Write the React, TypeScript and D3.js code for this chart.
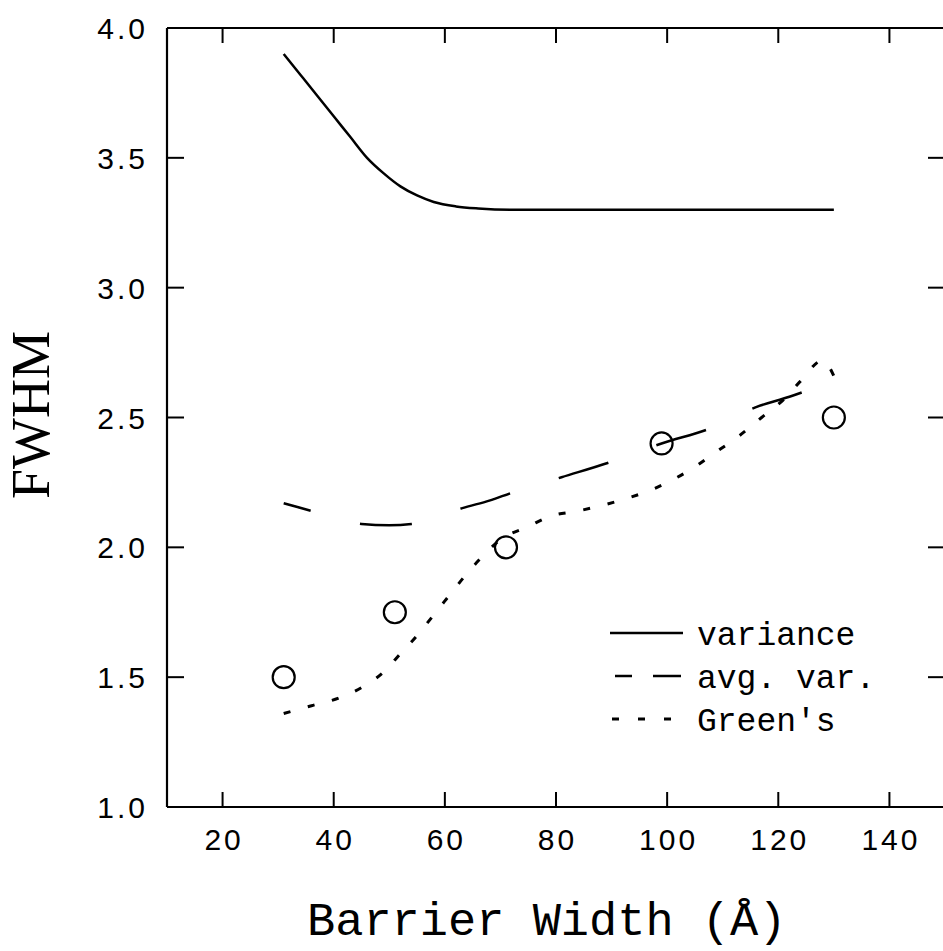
import React from "react";
import * as d3 from "d3";

const xTicks = [20, 40, 60, 80, 100, 120, 140];
const yTicks = [1.0, 1.5, 2.0, 2.5, 3.0, 3.5, 4.0];

const varianceX = [31, 34, 37, 40, 43, 46, 49, 52, 55, 58, 62, 66, 72, 100, 130];
const varianceY = [3.9, 3.82, 3.74, 3.66, 3.58, 3.5, 3.44, 3.39, 3.355, 3.33, 3.313, 3.305, 3.3, 3.3, 3.3];

const avgVarX = [31, 36, 41, 45, 50, 54, 58, 63, 68, 72, 81, 90, 99, 108, 116, 122, 126, 130];
const avgVarY = [2.17, 2.14, 2.11, 2.09, 2.085, 2.09, 2.11, 2.15, 2.18, 2.21, 2.27, 2.33, 2.4, 2.46, 2.54, 2.58, 2.61, 2.64];

const greensX = [31, 36, 41, 45, 49, 52, 55, 58, 61, 64, 67, 70, 75, 79, 84, 88, 93, 97, 101, 105, 109, 113, 117, 121, 124, 128, 130];
const greensY = [1.36, 1.39, 1.42, 1.46, 1.52, 1.59, 1.66, 1.74, 1.82, 1.9, 1.97, 2.03, 2.08, 2.12, 2.14, 2.16, 2.19, 2.22, 2.26, 2.31, 2.37, 2.43, 2.5, 2.57, 2.64, 2.72, 2.66];

const pointsX = [31, 51, 71, 99, 130];
const pointsY = [1.5, 1.75, 2.0, 2.4, 2.5];

const legendLabels = ["variance", "avg. var.", "Green's"];

export default function App() {
  const x = d3.scaleLinear().domain([10, 150]).range([167, 945]);
  const y = d3.scaleLinear().domain([1, 4]).range([807, 28]);
  const line = d3
    .line<[number, number]>()
    .x((d) => x(d[0]))
    .y((d) => y(d[1]))
    .curve(d3.curveMonotoneX);
  const zip = (a: number[], b: number[]) => a.map((v, i) => [v, b[i]] as [number, number]);

  const tickFont = { fontFamily: "'Liberation Sans', Arial, sans-serif", fontSize: 30, letterSpacing: 3 };
  const monoFont = "'Liberation Mono', 'Courier New', monospace";

  const legendY = [633, 676, 719];

  return (
    <svg width={943} height={951} style={{ position: "absolute", left: 0, top: 0, background: "#fff" }}>
      <g stroke="#000" strokeWidth={2.2} fill="none">
        <line x1={x(10)} x2={x(10)} y1={y(1)} y2={y(4)} />
        <line x1={x(10)} x2={x(150)} y1={y(1)} y2={y(1)} />
        <line x1={x(10)} x2={x(150)} y1={y(4)} y2={y(4)} />
        <line x1={x(150)} x2={x(150)} y1={y(1)} y2={y(4)} />
      </g>
      <g stroke="#000" strokeWidth={2}>
        {xTicks.map((t) => (
          <g key={"xt" + t}>
            <line x1={x(t)} x2={x(t)} y1={y(1)} y2={y(1) - 15} />
            <line x1={x(t)} x2={x(t)} y1={y(4)} y2={y(4) + 15} />
          </g>
        ))}
        {yTicks.slice(1, -1).map((t) => (
          <g key={"yt" + t}>
            <line x1={x(10)} x2={x(10) + 17} y1={y(t)} y2={y(t)} />
            <line x1={x(150)} x2={x(150) - 17} y1={y(t)} y2={y(t)} />
          </g>
        ))}
      </g>
      {xTicks.map((t) => (
        <text key={"xl" + t} x={x(t) + 1.5} y={850} textAnchor="middle" {...tickFont}>
          {t}
        </text>
      ))}
      {yTicks.map((t) => (
        <text key={"yl" + t} x={148} y={y(t) + 11} textAnchor="end" {...tickFont}>
          {t.toFixed(1)}
        </text>
      ))}
      <text
        transform={`translate(49, 415) rotate(-90)`}
        textAnchor="middle"
        fontFamily="'Liberation Serif', 'Times New Roman', serif"
        fontSize={54}
      >
        FWHM
      </text>
      <text x={307} y={935} fontFamily={monoFont} fontSize={47}>
        Barrier Width (Å)
      </text>
      <path d={line(zip(varianceX, varianceY)) || ""} fill="none" stroke="#000" strokeWidth={2.5} />
      <path
        d={line(zip(avgVarX, avgVarY)) || ""}
        fill="none"
        stroke="#000"
        strokeWidth={2.5}
        strokeDasharray="52 51"
        strokeDashoffset={24}
      />
      <path
        d={line(zip(greensX, greensY)) || ""}
        fill="none"
        stroke="#000"
        strokeWidth={3}
        strokeDasharray="7 18"
      />
      {pointsX.map((p, i) => (
        <circle key={"pt" + i} cx={x(p)} cy={y(pointsY[i])} r={11} fill="none" stroke="#000" strokeWidth={2.2} />
      ))}
      <g stroke="#000" strokeWidth={2.5}>
        <line x1={610} x2={683} y1={legendY[0]} y2={legendY[0]} />
        <line x1={615} x2={632} y1={legendY[1]} y2={legendY[1]} />
        <line x1={653} x2={681} y1={legendY[1]} y2={legendY[1]} />
        <line x1={612} x2={619} y1={legendY[2]} y2={legendY[2]} strokeWidth={3} />
        <line x1={638} x2={645} y1={legendY[2]} y2={legendY[2]} strokeWidth={3} />
        <line x1={664} x2={671} y1={legendY[2]} y2={legendY[2]} strokeWidth={3} />
      </g>
      {legendLabels.map((l, i) => (
        <text key={l} x={697} y={legendY[i] + 12} fontFamily={monoFont} fontSize={33}>
          {l}
        </text>
      ))}
    </svg>
  );
}
